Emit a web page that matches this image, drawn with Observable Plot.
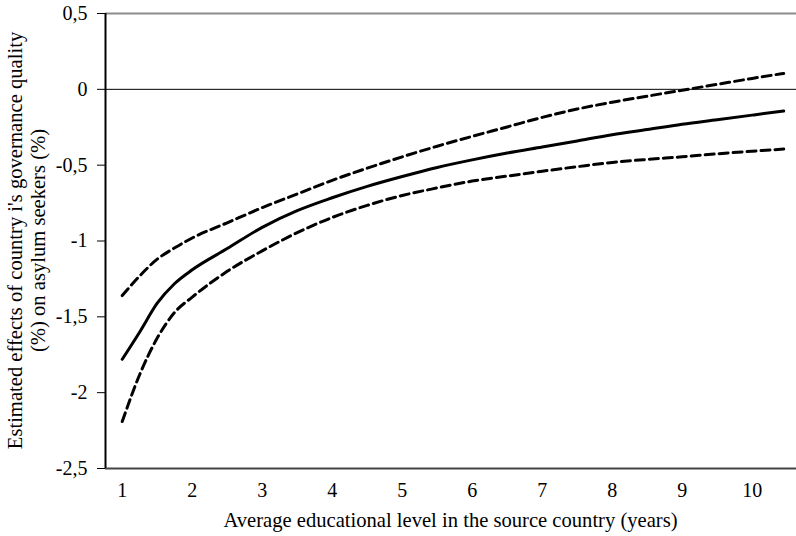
<!DOCTYPE html>
<html>
<head>
<meta charset="utf-8">
<script src="https://cdn.jsdelivr.net/npm/d3@7"></script>
<script src="https://cdn.jsdelivr.net/npm/@observablehq/plot@0.6"></script>
<style>
  html, body { margin: 0; padding: 0; background: #fff; }
  #chart { width: 796px; height: 536px; }
  #chart svg, #chart svg text { font-family: "Liberation Serif", "Times New Roman", serif !important; }
</style>
</head>
<body>
<div id="chart"></div>
<script>
const years = [1, 1.25, 1.5, 1.75, 2, 2.5, 3, 3.5, 4, 4.5, 5, 5.5, 6, 6.5, 7, 7.5, 8, 8.5, 9, 9.5, 10, 10.45];
const estimate = [-1.78, -1.60, -1.41, -1.28, -1.19, -1.05, -0.91, -0.80, -0.715, -0.64, -0.575, -0.515, -0.465, -0.42, -0.38, -0.34, -0.30, -0.265, -0.23, -0.20, -0.17, -0.143];
const upperBound = [-1.36, -1.23, -1.12, -1.045, -0.98, -0.88, -0.78, -0.69, -0.60, -0.52, -0.445, -0.375, -0.31, -0.248, -0.185, -0.13, -0.085, -0.045, -0.006, 0.033, 0.072, 0.105];
const lowerBound = [-2.19, -1.88, -1.64, -1.47, -1.37, -1.20, -1.065, -0.945, -0.845, -0.765, -0.70, -0.65, -0.605, -0.572, -0.54, -0.51, -0.482, -0.462, -0.445, -0.425, -0.408, -0.394];
const yTicks = [0.5, 0, -0.5, -1, -1.5, -2, -2.5];
const xTicks = [1, 2, 3, 4, 5, 6, 7, 8, 9, 10];
const xTitle = "Average educational level in the source country (years)";
const yTitleLines = ["Estimated effects of country i's governance quality", "(%) on asylum seekers (%)"];

const toRows = (vals) => years.map((x, i) => ({x, y: vals[i]}));
const xMin = 0.761, xMax = 10.633;
const serif = "'Liberation Serif', 'Times New Roman', serif";
const fs = 20;
const titleFs = 20.6;

const plot = Plot.plot({
  width: 796,
  height: 536,
  marginLeft: 105,
  marginRight: 0,
  marginTop: 13,
  marginBottom: 68,
  style: {fontFamily: serif, fontSize: fs + "px", color: "#000", background: "#fff"},
  x: {domain: [xMin, xMax]},
  y: {domain: [-2.5, 0.5]},
  marks: [
    Plot.ruleY([0.5], {stroke: "#8c8c8c", strokeWidth: 2}),
    Plot.ruleY([0], {stroke: "#000", strokeWidth: 1}),
    Plot.ruleY([-2.5], {stroke: "#444", strokeWidth: 2}),
    Plot.axisY({ticks: yTicks, tickSize: 8, tickPadding: 10, tickFormat: d => String(d).replace(".", ","), label: null, stroke: "#000", fontSize: fs}),
    Plot.axisX({ticks: xTicks, tickSize: 0, tickPadding: 14, tickFormat: d => String(d), label: null, fontSize: fs}),
    Plot.line(toRows(upperBound), {x: "x", y: "y", stroke: "#000", strokeWidth: 3, strokeDasharray: "9,5", curve: "monotone-x"}),
    Plot.line(toRows(lowerBound), {x: "x", y: "y", stroke: "#000", strokeWidth: 3, strokeDasharray: "9,5", curve: "monotone-x"}),
    Plot.line(toRows(estimate), {x: "x", y: "y", stroke: "#000", strokeWidth: 3, curve: "monotone-x"}),
    Plot.ruleX([xMin], {y1: -2.5, y2: 0.5, stroke: "#000", strokeWidth: 2})
  ]
});

const svg = d3.select(plot);
svg.attr("font-family", serif);

svg.append("text")
  .attr("x", (105 + 796) / 2)
  .attr("y", 527)
  .attr("text-anchor", "middle")
  .attr("font-size", titleFs)
  .attr("font-family", serif)
  .attr("fill", "#000")
  .text(xTitle);

const yCenter = (13 + 468) / 2;
yTitleLines.forEach((line, i) => {
  svg.append("text")
    .attr("transform", `translate(${22 + i * 23},${yCenter}) rotate(-90)`)
    .attr("text-anchor", "middle")
    .attr("font-size", titleFs)
    .attr("font-family", serif)
    .attr("fill", "#000")
    .text(line);
});

document.getElementById("chart").appendChild(plot);
</script>
</body>
</html>
